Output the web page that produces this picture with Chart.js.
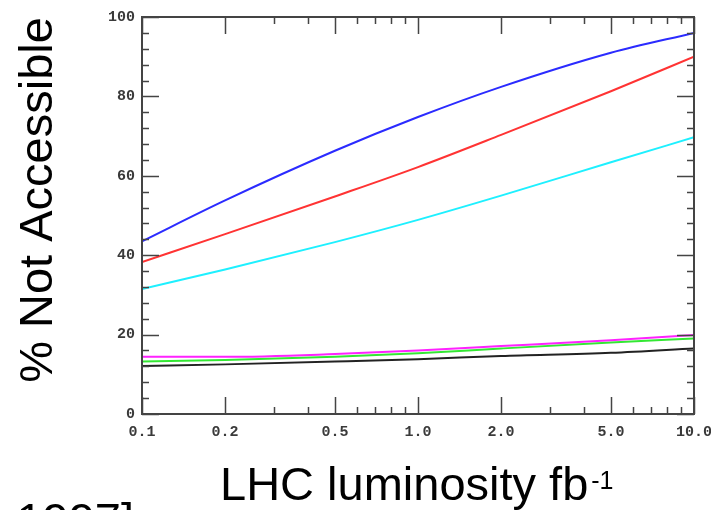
<!DOCTYPE html>
<html>
<head>
<meta charset="utf-8">
<script src="https://cdn.jsdelivr.net/npm/chart.js@4"></script>
<style>
  html, body { margin: 0; padding: 0; background: #fff; }
  canvas { display: block; }
</style>
</head>
<body>
<canvas id="myChart" width="711" height="510"></canvas>
<script>
const luminosity = [0.1, 0.2, 0.5, 1, 2, 5, 10];

// % not accessible, one list per curve
const blueLine = [43.5, 53.8, 66.3, 74.8, 82.4, 91, 96];
const redLine = [38.3, 45.3, 54.8, 62.2, 70.3, 81.3, 90];
const cyanLine = [31.5, 36.4, 43.3, 48.9, 55.0, 63.4, 69.7];
const magentaLine = [14.4, 14.4, 15.1, 16, 17.1, 18.6, 19.9];
const greenLine = [13.2, 13.6, 14.4, 15.3, 16.5, 18, 19];
const blackLine = [12.1, 12.5, 13.2, 13.8, 14.6, 15.4, 16.5];

// axis ticks
const xTicks = [0.1, 0.2, 0.3, 0.4, 0.5, 0.6, 0.7, 0.8, 0.9, 1, 2, 3, 4, 5, 6, 7, 8, 9, 10];
const xLabels = { 0.1: "0.1", 0.2: "0.2", 0.5: "0.5", 1: "1.0", 2: "2.0", 5: "5.0", 10: "10.0" };
const yTicks = [0, 4, 8, 12, 16, 20, 24, 28, 32, 36, 40, 44, 48, 52, 56, 60, 64, 68, 72, 76, 80, 84, 88, 92, 96, 100];
const yLabels = { 0: "0", 20: "20", 40: "40", 60: "60", 80: "80", 100: "100" };

const ctx = document.getElementById("myChart");

function series(values, color) {
  return {
    data: luminosity.map((x, i) => ({ x: x, y: values[i] })),
    borderColor: color,
    borderWidth: 2,
    pointRadius: 0,
    fill: false,
    cubicInterpolationMode: "monotone",
  };
}

// frame with inward tick marks on all four sides
const frame = {
  id: "frame",
  afterDraw(chart) {
    const c = chart.ctx;
    const a = chart.chartArea;
    const xs = chart.scales.x;
    const ys = chart.scales.y;
    c.save();
    c.strokeStyle = "#444";
    c.lineWidth = 2;
    c.strokeRect(a.left, a.top, a.right - a.left, a.bottom - a.top);
    c.lineWidth = 1.5;
    c.beginPath();
    xTicks.forEach((v) => {
      const px = Math.round(xs.getPixelForValue(v)) + 0.5;
      const len = xLabels[v] ? 17 : 7;
      c.moveTo(px, a.bottom);
      c.lineTo(px, a.bottom - len);
      c.moveTo(px, a.top);
      c.lineTo(px, a.top + len);
    });
    yTicks.forEach((v) => {
      const py = Math.round(ys.getPixelForValue(v)) + 0.5;
      const len = yLabels[v] !== undefined ? 17 : 7;
      c.moveTo(a.left, py);
      c.lineTo(a.left + len, py);
      c.moveTo(a.right, py);
      c.lineTo(a.right - len, py);
    });
    c.stroke();
    c.restore();
  },
};

// big axis titles and the cut-off reference at the bottom left
const titles = {
  id: "titles",
  afterDraw(chart) {
    const c = chart.ctx;
    c.save();
    c.fillStyle = "#000";
    c.font = "47px 'Liberation Sans', Arial, sans-serif";
    c.textBaseline = "alphabetic";

    c.save();
    c.translate(52, 200);
    c.rotate(-Math.PI / 2);
    c.textAlign = "center";
    c.fillText("% Not Accessible", 0, 0);
    c.restore();

    c.textAlign = "left";
    const main = "LHC luminosity fb";
    c.fillText(main, 220, 500);
    const w = c.measureText(main).width;
    c.font = "25px 'Liberation Sans', Arial, sans-serif";
    c.fillText("-1", 220 + w + 3, 489);

    c.font = "47px 'Liberation Sans', Arial, sans-serif";
    c.textAlign = "right";
    c.fillText("[CMS 1997]", 134, 536);
    c.restore();
  },
};

new Chart(ctx, {
  type: "line",
  data: {
    datasets: [
      series(blueLine, "#2b2bff"),
      series(redLine, "#ff3333"),
      series(cyanLine, "#1ef0ff"),
      series(magentaLine, "#ff22ff"),
      series(greenLine, "#33e833"),
      series(blackLine, "#222222"),
    ],
  },
  options: {
    responsive: false,
    animation: false,
    devicePixelRatio: 1,
    layout: {
      padding: { left: 0, right: 17, top: 17, bottom: 0 },
    },
    plugins: {
      legend: { display: false },
      tooltip: { enabled: false },
    },
    scales: {
      x: {
        type: "logarithmic",
        min: 0.1,
        max: 10,
        border: { display: false },
        grid: { display: false, drawTicks: false },
        afterBuildTicks(scale) {
          scale.ticks = xTicks.map((v) => ({ value: v }));
        },
        afterFit(scale) {
          scale.height = 96;
          scale.paddingLeft = 0;
          scale.paddingRight = 0;
        },
        ticks: {
          autoSkip: false,
          maxRotation: 0,
          padding: 9,
          color: "#3a3a3a",
          font: { family: "'Liberation Mono', monospace", size: 15, weight: "bold" },
          callback: (v) => xLabels[v] || "",
        },
      },
      y: {
        min: 0,
        max: 100,
        border: { display: false },
        grid: { display: false, drawTicks: false },
        afterBuildTicks(scale) {
          scale.ticks = yTicks.map((v) => ({ value: v }));
        },
        afterFit(scale) {
          scale.width = 142;
          scale.paddingTop = 0;
          scale.paddingBottom = 0;
        },
        ticks: {
          autoSkip: false,
          padding: 7,
          color: "#3a3a3a",
          font: { family: "'Liberation Mono', monospace", size: 15, weight: "bold" },
          callback: (v) => (yLabels[v] !== undefined ? yLabels[v] : ""),
        },
      },
    },
  },
  plugins: [frame, titles],
});
</script>
</body>
</html>
